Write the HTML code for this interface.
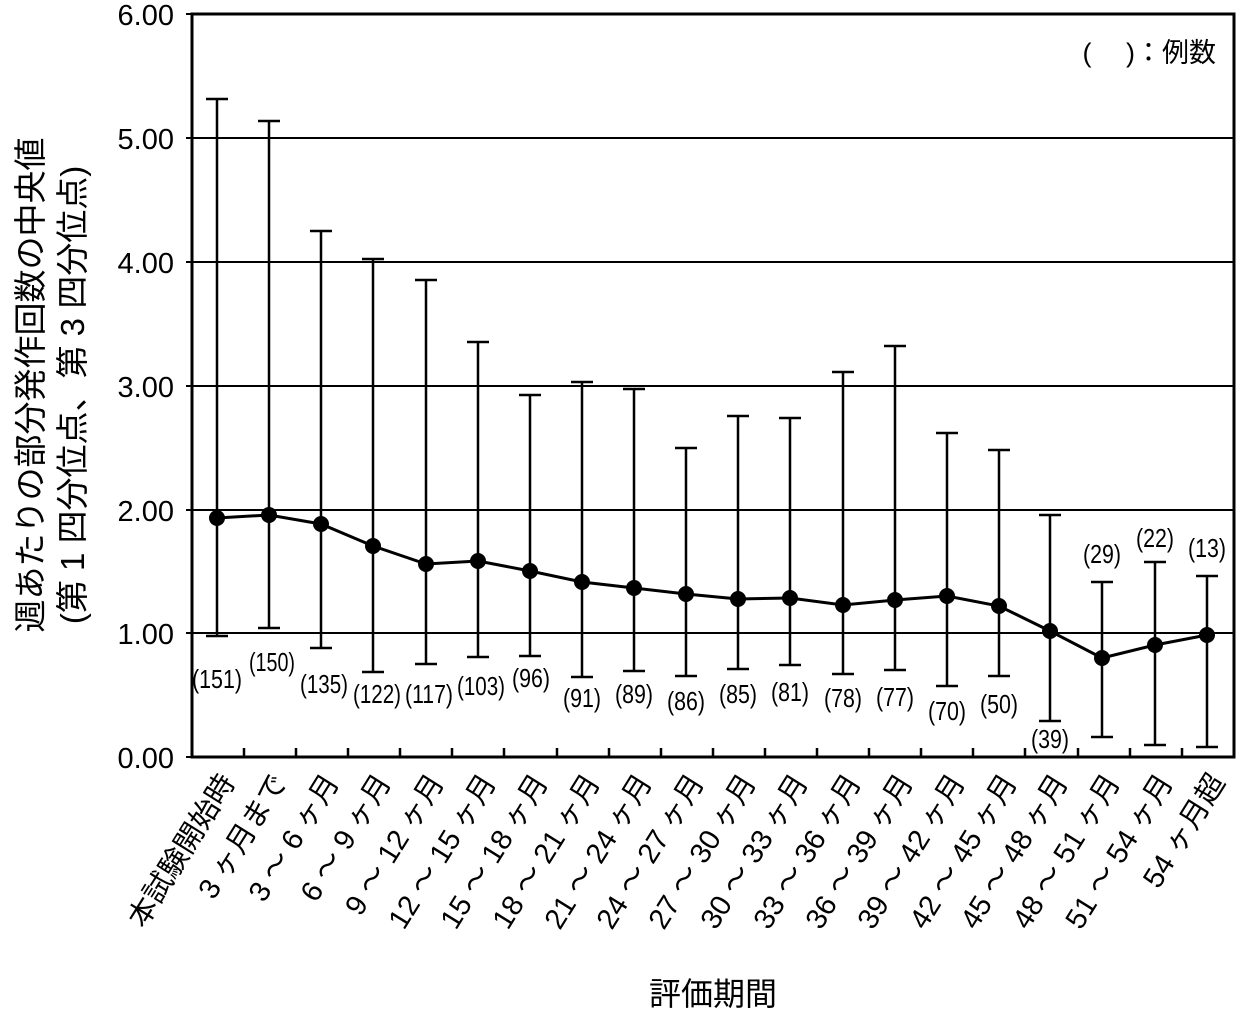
<!DOCTYPE html>
<html><head><meta charset="utf-8"><style>body{margin:0;background:#fff}svg{display:block}
text{font-family:"Liberation Sans","Noto Sans CJK JP",sans-serif;fill:#000}</style></head><body>
<svg width="1240" height="1017" viewBox="0 0 1240 1017" xmlns="http://www.w3.org/2000/svg">
<g stroke="#000" stroke-width="2">
<line x1="192" y1="138" x2="1234" y2="138"/><line x1="192" y1="262" x2="1234" y2="262"/>
<line x1="192" y1="386" x2="1234" y2="386"/><line x1="192" y1="510" x2="1234" y2="510"/>
<line x1="192" y1="633" x2="1234" y2="633"/>
<line x1="186" y1="14" x2="192" y2="14"/><line x1="186" y1="138" x2="192" y2="138"/><line x1="186" y1="262" x2="192" y2="262"/><line x1="186" y1="386" x2="192" y2="386"/><line x1="186" y1="510" x2="192" y2="510"/><line x1="186" y1="633" x2="192" y2="633"/><line x1="186" y1="757" x2="192" y2="757"/>
</g>
<rect x="192" y="14" width="1042" height="743" fill="none" stroke="#000" stroke-width="3"/>
<g stroke="#000" stroke-width="2.5">
<line x1="244" y1="757" x2="244" y2="748"/><line x1="296" y1="757" x2="296" y2="748"/><line x1="348" y1="757" x2="348" y2="748"/><line x1="400" y1="757" x2="400" y2="748"/><line x1="452" y1="757" x2="452" y2="748"/><line x1="504" y1="757" x2="504" y2="748"/><line x1="557" y1="757" x2="557" y2="748"/><line x1="609" y1="757" x2="609" y2="748"/><line x1="661" y1="757" x2="661" y2="748"/><line x1="713" y1="757" x2="713" y2="748"/><line x1="765" y1="757" x2="765" y2="748"/><line x1="817" y1="757" x2="817" y2="748"/><line x1="869" y1="757" x2="869" y2="748"/><line x1="921" y1="757" x2="921" y2="748"/><line x1="973" y1="757" x2="973" y2="748"/><line x1="1025" y1="757" x2="1025" y2="748"/><line x1="1078" y1="757" x2="1078" y2="748"/><line x1="1130" y1="757" x2="1130" y2="748"/><line x1="1182" y1="757" x2="1182" y2="748"/>
</g>
<g stroke="#000" stroke-width="2.5" fill="none">
<path d="M217 99V636M206 99H228M206 636H228"/>
<path d="M269 121V628M258 121H280M258 628H280"/>
<path d="M321 231V648M310 231H332M310 648H332"/>
<path d="M373 259V672M362 259H384M362 672H384"/>
<path d="M426 280V664M415 280H437M415 664H437"/>
<path d="M478 342V657M467 342H489M467 657H489"/>
<path d="M530 395V656M519 395H541M519 656H541"/>
<path d="M582 382V677M571 382H593M571 677H593"/>
<path d="M634 389V671M623 389H645M623 671H645"/>
<path d="M686 448V676M675 448H697M675 676H697"/>
<path d="M738 416V669M727 416H749M727 669H749"/>
<path d="M790 418V665M779 418H801M779 665H801"/>
<path d="M843 372V674M832 372H854M832 674H854"/>
<path d="M895 346V670M884 346H906M884 670H906"/>
<path d="M947 433V686M936 433H958M936 686H958"/>
<path d="M999 450V676M988 450H1010M988 676H1010"/>
<path d="M1050 515V721M1039 515H1061M1039 721H1061"/>
<path d="M1102 582V737M1091 582H1113M1091 737H1113"/>
<path d="M1155 562V745M1144 562H1166M1144 745H1166"/>
<path d="M1207 576V747M1196 576H1218M1196 747H1218"/>
<polyline stroke-width="3" points="217,518 269,515 321,524 373,546 426,564 478,561 530,571 582,582 634,588 686,594 738,599 790,598 843,605 895,600 947,596 999,606 1050,631 1102,658 1155,645 1207,635"/>
</g>
<g fill="#000">
<circle cx="217" cy="518" r="8"/><circle cx="269" cy="515" r="8"/><circle cx="321" cy="524" r="8"/><circle cx="373" cy="546" r="8"/><circle cx="426" cy="564" r="8"/><circle cx="478" cy="561" r="8"/><circle cx="530" cy="571" r="8"/><circle cx="582" cy="582" r="8"/><circle cx="634" cy="588" r="8"/><circle cx="686" cy="594" r="8"/><circle cx="738" cy="599" r="8"/><circle cx="790" cy="598" r="8"/><circle cx="843" cy="605" r="8"/><circle cx="895" cy="600" r="8"/><circle cx="947" cy="596" r="8"/><circle cx="999" cy="606" r="8"/><circle cx="1050" cy="631" r="8"/><circle cx="1102" cy="658" r="8"/><circle cx="1155" cy="645" r="8"/><circle cx="1207" cy="635" r="8"/>
</g>
<g font-size="29" text-anchor="end" font-family="Liberation Serif,serif">
<text x="174" y="25">6.00</text><text x="174" y="149">5.00</text><text x="174" y="273">4.00</text><text x="174" y="397">3.00</text><text x="174" y="521">2.00</text><text x="174" y="644">1.00</text><text x="174" y="768">0.00</text>
</g>
<g font-size="26" text-anchor="middle">
<text x="217" y="688" textLength="50" lengthAdjust="spacingAndGlyphs">(151)</text>
<text x="272" y="671" textLength="46" lengthAdjust="spacingAndGlyphs">(150)</text>
<text x="324" y="693" textLength="48" lengthAdjust="spacingAndGlyphs">(135)</text>
<text x="377" y="703" textLength="48" lengthAdjust="spacingAndGlyphs">(122)</text>
<text x="429" y="703" textLength="48" lengthAdjust="spacingAndGlyphs">(117)</text>
<text x="481" y="695" textLength="48" lengthAdjust="spacingAndGlyphs">(103)</text>
<text x="531" y="687" textLength="38" lengthAdjust="spacingAndGlyphs">(96)</text>
<text x="582" y="707" textLength="38" lengthAdjust="spacingAndGlyphs">(91)</text>
<text x="634" y="703" textLength="38" lengthAdjust="spacingAndGlyphs">(89)</text>
<text x="686" y="710" textLength="38" lengthAdjust="spacingAndGlyphs">(86)</text>
<text x="738" y="703" textLength="38" lengthAdjust="spacingAndGlyphs">(85)</text>
<text x="790" y="701" textLength="38" lengthAdjust="spacingAndGlyphs">(81)</text>
<text x="843" y="707" textLength="38" lengthAdjust="spacingAndGlyphs">(78)</text>
<text x="895" y="706" textLength="38" lengthAdjust="spacingAndGlyphs">(77)</text>
<text x="947" y="720" textLength="38" lengthAdjust="spacingAndGlyphs">(70)</text>
<text x="999" y="713" textLength="38" lengthAdjust="spacingAndGlyphs">(50)</text>
<text x="1050" y="748" textLength="38" lengthAdjust="spacingAndGlyphs">(39)</text>
<text x="1102" y="563" textLength="38" lengthAdjust="spacingAndGlyphs">(29)</text>
<text x="1155" y="547" textLength="38" lengthAdjust="spacingAndGlyphs">(22)</text>
<text x="1207" y="557" textLength="38" lengthAdjust="spacingAndGlyphs">(13)</text>
</g>
<text x="1216" y="62" font-size="27" text-anchor="end">(　 )：例数</text>
<g font-size="29" text-anchor="end">
<text transform="translate(236,782) rotate(-58)">本試験開始時</text>
<text transform="translate(288,782) rotate(-58)">3 ヶ月まで</text>
<text transform="translate(340,782) rotate(-58)">3 ～ 6 ヶ月</text>
<text transform="translate(392,782) rotate(-58)">6 ～ 9 ヶ月</text>
<text transform="translate(445,782) rotate(-58)">9 ～ 12 ヶ月</text>
<text transform="translate(497,782) rotate(-58)">12 ～ 15 ヶ月</text>
<text transform="translate(549,782) rotate(-58)">15 ～ 18 ヶ月</text>
<text transform="translate(601,782) rotate(-58)">18 ～ 21 ヶ月</text>
<text transform="translate(653,782) rotate(-58)">21 ～ 24 ヶ月</text>
<text transform="translate(705,782) rotate(-58)">24 ～ 27 ヶ月</text>
<text transform="translate(757,782) rotate(-58)">27 ～ 30 ヶ月</text>
<text transform="translate(809,782) rotate(-58)">30 ～ 33 ヶ月</text>
<text transform="translate(862,782) rotate(-58)">33 ～ 36 ヶ月</text>
<text transform="translate(914,782) rotate(-58)">36 ～ 39 ヶ月</text>
<text transform="translate(966,782) rotate(-58)">39 ～ 42 ヶ月</text>
<text transform="translate(1018,782) rotate(-58)">42 ～ 45 ヶ月</text>
<text transform="translate(1069,782) rotate(-58)">45 ～ 48 ヶ月</text>
<text transform="translate(1121,782) rotate(-58)">48 ～ 51 ヶ月</text>
<text transform="translate(1174,782) rotate(-58)">51 ～ 54 ヶ月</text>
<text transform="translate(1226,782) rotate(-58)">54 ヶ月超</text>
</g>
<text x="713" y="1005" font-size="32" text-anchor="middle">評価期間</text>
<g font-size="33" text-anchor="middle">
<text transform="translate(42,385) rotate(-90)">週あたりの部分発作回数の中央値</text>
<text transform="translate(84,395) rotate(-90)">(第 1 四分位点、第 3 四分位点)</text>
</g>
</svg>
</body></html>
